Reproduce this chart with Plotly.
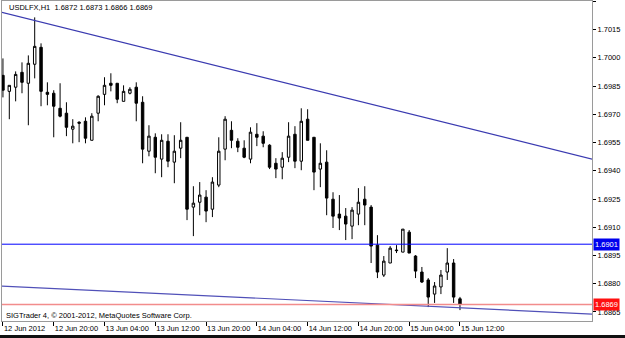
import plotly.graph_objects as go

# ---- data ----
bar_index = list(range(73))
opens = [1.69907, 1.69822, 1.69844, 1.69923, 1.69865, 1.69966, 1.70056, 1.69817, 1.69812, 1.69732,
         1.69706, 1.69621, 1.69658, 1.69663, 1.69562, 1.69706, 1.69806, 1.69865, 1.69865, 1.69769,
         1.69812, 1.69844, 1.69764, 1.69504, 1.69578, 1.69462, 1.69557, 1.69446, 1.69520, 1.69578,
         1.69207, 1.69233, 1.69260, 1.69196, 1.69324, 1.69515, 1.69615, 1.69557, 1.69520, 1.69462,
         1.69594, 1.69584, 1.69536, 1.69440, 1.69419, 1.69472, 1.69594, 1.69451, 1.69674, 1.69578,
         1.69409, 1.69446, 1.69249, 1.69170, 1.69159, 1.69106, 1.69170, 1.69249, 1.69207, 1.69005,
         1.68846, 1.68910, 1.68979, 1.68968, 1.69074, 1.68947, 1.68862, 1.68820, 1.68745, 1.68783,
         1.68862, 1.68910, 1.68720]
highs = [1.69997, 1.69854, 1.69928, 1.69976, 1.70013, 1.70215, 1.70077, 1.69870, 1.69828, 1.69865,
         1.69764, 1.69674, 1.69663, 1.69684, 1.69706, 1.69801, 1.69897, 1.69918, 1.69865, 1.69854,
         1.69844, 1.69870, 1.69796, 1.69642, 1.69599, 1.69594, 1.69594, 1.69589, 1.69658, 1.69578,
         1.69318, 1.69340, 1.69297, 1.69366, 1.69578, 1.69690, 1.69663, 1.69573, 1.69562, 1.69631,
         1.69653, 1.69610, 1.69541, 1.69467, 1.69499, 1.69658, 1.69637, 1.69732, 1.69727, 1.69578,
         1.69546, 1.69509, 1.69286, 1.69271, 1.69202, 1.69207, 1.69308, 1.69318, 1.69218, 1.69058,
         1.68947, 1.69000, 1.69005, 1.69090, 1.69085, 1.68952, 1.68889, 1.68830, 1.68809, 1.68873,
         1.68989, 1.68931, 1.68730]
lows = [1.69790, 1.69674, 1.69769, 1.69812, 1.69642, 1.69891, 1.69743, 1.69748, 1.69578, 1.69684,
        1.69584, 1.69546, 1.69552, 1.69546, 1.69562, 1.69663, 1.69748, 1.69822, 1.69759, 1.69769,
        1.69806, 1.69663, 1.69440, 1.69477, 1.69387, 1.69366, 1.69419, 1.69334, 1.69467, 1.69138,
        1.69053, 1.69164, 1.69127, 1.69154, 1.69313, 1.69456, 1.69520, 1.69499, 1.69467, 1.69440,
        1.69531, 1.69525, 1.69409, 1.69361, 1.69355, 1.69446, 1.69414, 1.69403, 1.69562, 1.69297,
        1.69313, 1.69164, 1.69096, 1.69085, 1.69032, 1.69037, 1.69111, 1.69111, 1.68910, 1.68830,
        1.68836, 1.68910, 1.68963, 1.68968, 1.68963, 1.68830, 1.68804, 1.68676, 1.68698, 1.68745,
        1.68820, 1.68698, 1.68660]
closes = [1.69828, 1.69854, 1.69912, 1.69870, 1.69971, 1.70061, 1.69822, 1.69806, 1.69743, 1.69690,
          1.69631, 1.69637, 1.69653, 1.69573, 1.69690, 1.69796, 1.69854, 1.69854, 1.69780, 1.69822,
          1.69833, 1.69759, 1.69515, 1.69584, 1.69472, 1.69562, 1.69451, 1.69504, 1.69562, 1.69196,
          1.69228, 1.69271, 1.69186, 1.69340, 1.69504, 1.69674, 1.69562, 1.69525, 1.69472, 1.69605,
          1.69578, 1.69546, 1.69419, 1.69409, 1.69467, 1.69584, 1.69451, 1.69663, 1.69562, 1.69393,
          1.69440, 1.69255, 1.69159, 1.69149, 1.69117, 1.69191, 1.69233, 1.69218, 1.69000, 1.68862,
          1.68920, 1.68989, 1.68976, 1.69090, 1.68963, 1.68867, 1.68809, 1.68729, 1.68788, 1.68846,
          1.68910, 1.68729, 1.68690]

time_tick_bars = [0, 8, 16, 24, 32, 40, 48, 56, 64, 72]
time_tick_labels = ["12 Jun 2012", "12 Jun 20:00", "13 Jun 04:00", "13 Jun 12:00", "13 Jun 20:00",
                    "14 Jun 04:00", "14 Jun 12:00", "14 Jun 20:00", "15 Jun 04:00", "15 Jun 12:00"]
price_ticks = [1.6865, 1.6880, 1.6895, 1.6910, 1.6925, 1.6940, 1.6955, 1.6970, 1.6985, 1.7000, 1.7015, 1.7030]
price_tick_labels = ["1.6865", "1.6880", "1.6895", "1.6910", "1.6925", "1.6940", "1.6955", "1.6970",
                     "1.6985", "1.7000", "1.7015", "1.7030"]

upper_trend_bars = [-1, 94]
upper_trend_prices = [1.70249, 1.69452]
lower_trend_bars = [-1, 94]
lower_trend_prices = [1.68789, 1.68637]

blue_level = 1.6901
red_level = 1.6869
header_text = "USDLFX,H1  1.6872 1.6873 1.6866 1.6869"
footer_text = "SIGTrader 4, © 2001-2012, MetaQuotes Software Corp."

FONT = "Liberation Sans"
FS = 7.5

fig = go.Figure()
fig.add_trace(go.Scatter(x=upper_trend_bars, y=upper_trend_prices, mode="lines",
                         line=dict(color="#3a3ab0", width=1.2), hoverinfo="skip", showlegend=False))
fig.add_trace(go.Scatter(x=lower_trend_bars, y=lower_trend_prices, mode="lines",
                         line=dict(color="#5050b8", width=1.2), hoverinfo="skip", showlegend=False))
fig.add_trace(go.Candlestick(
    x=bar_index, open=opens, high=highs, low=lows, close=closes,
    increasing=dict(line=dict(color="#000000", width=1), fillcolor="#ffffff"),
    decreasing=dict(line=dict(color="#000000", width=1), fillcolor="#000000"),
    whiskerwidth=0, showlegend=False))

fig.add_shape(type="line", xref="paper", x0=0, x1=1, yref="y", y0=blue_level, y1=blue_level,
              line=dict(color="#0000ff", width=1))
fig.add_shape(type="line", xref="paper", x0=0, x1=1, yref="y", y0=red_level, y1=red_level,
              line=dict(color="#f28c8c", width=1.6))
# dark strip at the bottom of the window
fig.add_shape(type="rect", xref="paper", yref="paper", x0=-0.01, x1=1.07, y0=-0.07, y1=-0.044,
              fillcolor="#101010", line=dict(width=0), layer="above")

fig.add_annotation(xref="paper", yref="y", x=1, y=blue_level, xanchor="left", yanchor="middle",
                   xshift=1, text="1.6901", showarrow=False, bgcolor="#0000ee",
                   font=dict(family=FONT, size=FS, color="#ffffff"), borderpad=1)
fig.add_annotation(xref="paper", yref="y", x=1, y=red_level, xanchor="left", yanchor="middle",
                   xshift=1, text="1.6869", showarrow=False, bgcolor="#ff1010",
                   font=dict(family=FONT, size=FS, color="#ffffff"), borderpad=1)
fig.add_annotation(xref="paper", yref="paper", x=0.0085, y=0.981, xanchor="left", yanchor="middle",
                   text=header_text, showarrow=False, font=dict(family=FONT, size=FS, color="#000000"))
fig.add_annotation(xref="paper", yref="paper", x=0.003, y=0.016, xanchor="left", yanchor="middle",
                   text=footer_text, showarrow=False, font=dict(family=FONT, size=FS, color="#000000"))

fig.update_layout(
    width=625, height=338,
    margin=dict(l=2, r=33, t=1, b=17, autoexpand=False),
    paper_bgcolor="#ffffff", plot_bgcolor="#ffffff",
    boxgap=0.45,
    showlegend=False,
    xaxis=dict(range=[-0.15, 92.8], rangeslider=dict(visible=False), showgrid=False, zeroline=False,
               showline=True, linecolor="#9a9a9a", linewidth=1, mirror=True,
               tickmode="array", tickvals=time_tick_bars, ticktext=time_tick_labels,
               ticks="outside", ticklen=4, tickcolor="#000000", tickangle=0, automargin=False,
               ticklabelposition="outside right",
               tickfont=dict(family=FONT, size=FS, color="#000000")),
    yaxis=dict(range=[1.68602, 1.70302], side="right", showgrid=False, zeroline=False,
               showline=True, linecolor="#9a9a9a", linewidth=1, mirror=True,
               tickmode="array", tickvals=price_ticks, ticktext=price_tick_labels,
               ticks="outside", ticklen=3, tickcolor="#000000", automargin=False,
               tickfont=dict(family=FONT, size=FS, color="#000000")),
)

fig.write_html("out.html")
